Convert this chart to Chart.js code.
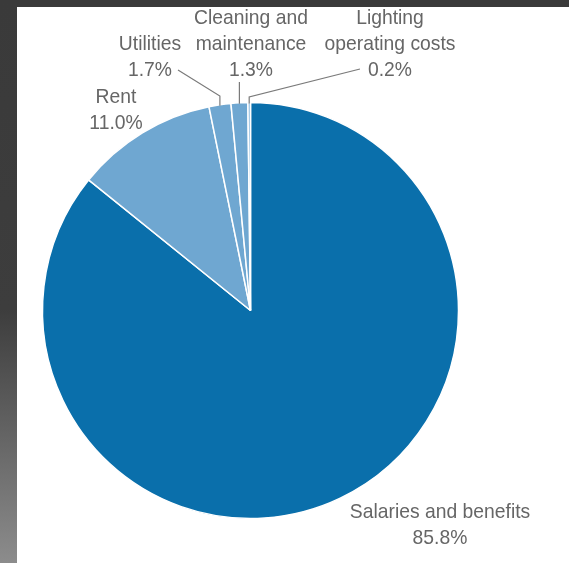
<!DOCTYPE html>
<html>
<head>
<meta charset="utf-8">
<script src="https://cdn.jsdelivr.net/npm/chart.js@4/dist/chart.umd.min.js"></script>
<style>
  html, body { margin: 0; padding: 0; background: #3a3a3a; }
  #wrap { width: 569px; height: 563px; }
</style>
</head>
<body>
<div id="wrap"><canvas id="c" width="569" height="563"></canvas></div>
<script>
// ---- data ----
const categories = ['Salaries and benefits', 'Rent', 'Utilities', 'Cleaning and maintenance', 'Lighting operating costs'];
const labelLines = [['Salaries and benefits'], ['Rent'], ['Utilities'], ['Cleaning and', 'maintenance'], ['Lighting', 'operating costs']];
const shares = [85.8, 11.0, 1.7, 1.3, 0.2];
const sliceColors = ['#0a6fab', '#6fa7d1', '#6fa7d1', '#6fa7d1', '#8fbbde'];

// ---- label layout (text anchors, leader style) ----
const labelLayout = [
  { cx: 440, ys: [512, 538] },
  { cx: 116, ys: [97, 123] },
  { cx: 150, ys: [44, 70], leader: { from: [178, 70], elbowY: 96 } },
  { cx: 251, ys: [18, 44, 70], leader: { from: null, startY: 82 } },
  { cx: 390, ys: [18, 44, 70], leader: { from: [360, 69], elbowY: 97 } }
];

const FONT = '21px "Liberation Sans", Arial, sans-serif';
const TEXT_SCALE_X = 0.92;
const TEXT_COLOR = '#666666';

const framePlugin = {
  id: 'frame',
  beforeDraw(chart) {
    const ctx = chart.ctx;
    const W = chart.width, H = chart.height;
    ctx.save();
    ctx.fillStyle = '#3a3a3a';
    ctx.fillRect(0, 0, W, H);
    const g = ctx.createLinearGradient(0, 0, 0, H);
    g.addColorStop(0, '#3a3a3a');
    g.addColorStop(0.55, '#3d3d3d');
    g.addColorStop(1, '#8c8c8c');
    ctx.fillStyle = g;
    ctx.fillRect(0, 0, 17, H);
    ctx.fillStyle = '#ffffff';
    ctx.fillRect(17, 7, W - 17, H - 7);
    ctx.restore();
  }
};

const labelPlugin = {
  id: 'pieLabels',
  afterDraw(chart) {
    const ctx = chart.ctx;
    const arcs = chart.getDatasetMeta(0).data;
    ctx.save();
    ctx.font = FONT;
    ctx.fillStyle = TEXT_COLOR;
    ctx.textAlign = 'center';
    ctx.textBaseline = 'middle';
    labelLayout.forEach((L, i) => {
      const lines = labelLines[i].concat([shares[i].toFixed(1) + '%']);
      lines.forEach((t, k) => {
        ctx.save();
        ctx.translate(L.cx, L.ys[k]);
        ctx.scale(TEXT_SCALE_X, 1);
        ctx.fillText(t, 0, 0);
        ctx.restore();
      });
      if (L.leader) {
        const a = arcs[i].getProps(['x', 'y', 'startAngle', 'endAngle', 'outerRadius'], true);
        const mid = (a.startAngle + a.endAngle) / 2;
        const px = a.x + Math.cos(mid) * a.outerRadius;
        const py = a.y + Math.sin(mid) * a.outerRadius;
        ctx.strokeStyle = '#7a7a7a';
        ctx.lineWidth = 1.2;
        ctx.beginPath();
        if (L.leader.from) {
          ctx.moveTo(L.leader.from[0], L.leader.from[1]);
          ctx.lineTo(px, L.leader.elbowY);
        } else {
          ctx.moveTo(px, L.leader.startY);
        }
        ctx.lineTo(px, py + 1);
        ctx.stroke();
      }
    });
    ctx.restore();
  }
};

new Chart(document.getElementById('c'), {
  type: 'pie',
  data: {
    labels: categories,
    datasets: [{
      data: shares,
      backgroundColor: sliceColors,
      borderColor: '#ffffff',
      borderWidth: 1.5,
      hoverOffset: 0,
      radius: 208
    }]
  },
  options: {
    responsive: false,
    animation: false,
    events: [],
    layout: { padding: { left: 43, right: 111, top: 103, bottom: 45 } },
    plugins: {
      legend: { display: false },
      tooltip: { enabled: false },
      title: { display: false }
    }
  },
  plugins: [framePlugin, labelPlugin]
});
</script>
</body>
</html>
